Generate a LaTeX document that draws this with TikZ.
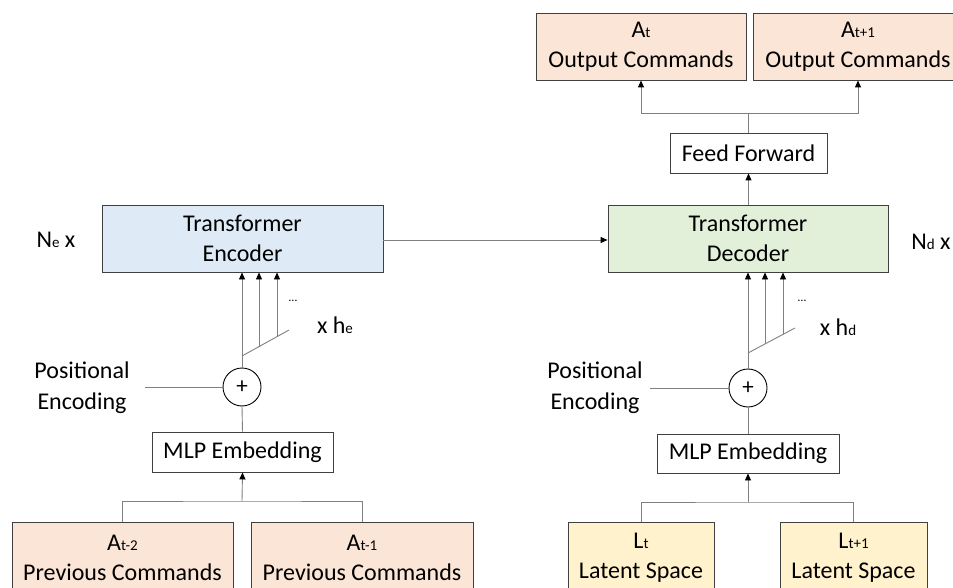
\documentclass[tikz,border=0pt]{standalone}
\usepackage{fontspec}
\setmainfont{Carlito}
\usetikzlibrary{arrows.meta}
\definecolor{peach}{HTML}{FBE5D6}
\definecolor{encblue}{HTML}{DEEBF7}
\definecolor{decgreen}{HTML}{E2F0D9}
\definecolor{latyellow}{HTML}{FFF2CC}
\definecolor{edgegray}{HTML}{404040}
\definecolor{wiregray}{HTML}{808080}
\newcommand{\smallidx}[1]{{\fontsize{15}{15}\selectfont #1}}
\tikzset{
  box/.style={draw=edgegray, line width=0.9pt, align=center, inner sep=0pt,
    font=\fontsize{24}{30}\selectfont},
  wire/.style={draw=wiregray, line width=0.9pt},
  arr/.style={wire, -{Triangle[length=7pt,width=6pt,fill=black,color=black]}},
  label/.style={align=center, inner sep=0pt, font=\fontsize{24}{31}\selectfont},
  plus/.style={circle, draw=black, line width=0.9pt, minimum size=38pt, inner sep=0pt,
    font=\fontsize{23}{23}\selectfont},
}
\begin{document}
\begin{tikzpicture}[x=1pt,y=-1pt]
\useasboundingbox (0,0) rectangle (953,588);
\begin{scope}
\clip (0,0) rectangle (953,588);

% main blocks
\node[box, fill=encblue, minimum width=281pt, minimum height=67pt] (enc) at (242.5,238.5) {Transformer\\Encoder};
\node[box, fill=decgreen, minimum width=280pt, minimum height=67pt] (dec) at (748,238.5) {Transformer\\Decoder};
\node[box, minimum width=157pt, minimum height=40pt] (ff) at (748.5,153) {Feed Forward};
\node[box, fill=peach, minimum width=210pt, minimum height=67pt] (out1) at (641,46.5) {A\smallidx{t}\\Output Commands};
\node[box, fill=peach, minimum width=210pt, minimum height=67pt] (out2) at (858,46.5) {A\smallidx{t+1}\\Output Commands};
\node[box, minimum width=181pt, minimum height=40pt] (mlpl) at (242.5,452) {MLP Embedding};
\node[box, minimum width=182pt, minimum height=39pt] (mlpr) at (748,453.5) {MLP Embedding};

% input blocks
\node[box, fill=peach, minimum width=221pt, minimum height=71pt] (prev1) at (122.5,557.5) {A\smallidx{t-2}\\Previous Commands};
\node[box, fill=peach, minimum width=222pt, minimum height=71pt] (prev2) at (362,557.5) {A\smallidx{t-1}\\Previous Commands};
\node[box, fill=latyellow, minimum width=146pt, minimum height=71pt] (lat1) at (641,557.5) {L\smallidx{t}\\Latent Space};
\node[box, fill=latyellow, minimum width=147pt, minimum height=71pt] (lat2) at (853.5,557.5) {L\smallidx{t+1}\\Latent Space};

% positional encoding sums
\node[plus] (suml) at (242,387) {+};
\node[plus] (sumr) at (748,388) {+};
\node[label] (pel) at (82,388) {Positional\\Encoding};
\node[label] (per) at (595,388) {Positional\\Encoding};
\coordinate (pelend) at (145,387);
\coordinate (perend) at (650,388);

% side labels
\node[label] (ne) at (56,240) {N\smallidx{e} x};
\node[label] (nd) at (931,242) {N\smallidx{d} x};
\node[label] (hel) at (335,325) {x h\smallidx{e}};
\node[label] (hdl) at (838,327) {x h\smallidx{d}};
\node[inner sep=0pt, font=\fontsize{12}{12}\selectfont] (dotsl) at (293,301) {\dots};
\node[inner sep=0pt, font=\fontsize{12}{12}\selectfont] (dotsr) at (802,301) {\dots};

% encoder side wiring
\coordinate (fl0) at (242,356);
\coordinate (fl1) at (259,346.6);
\coordinate (fl2) at (277,336.6);
\coordinate (fl3) at (289,330);
\draw[wire] (pelend) -- (suml.west);
\draw[wire] (suml.south) -- (mlpl.north);
\draw[arr] (suml.north) -- (enc.south -| suml);
\draw[wire] (fl0) -- (fl3);
\draw[arr] (fl1) -- (enc.south -| fl1);
\draw[arr] (fl2) -- (enc.south -| fl2);
\coordinate (jl) at (242,501);
\draw[arr] (jl) -- (mlpl.south);
\draw[wire] (prev1.north) |- (jl) -| (prev2.north);

% encoder to decoder
\draw[arr] (enc.east |- 0,240) -- (dec.west |- 0,240);

% decoder side wiring
\coordinate (fr0) at (748,353);
\coordinate (fr1) at (765,344);
\coordinate (fr2) at (783,334.4);
\coordinate (fr3) at (795,328);
\draw[wire] (perend) -- (sumr.west);
\draw[wire] (sumr.south) -- (mlpr.north);
\draw[arr] (sumr.north) -- (dec.south -| sumr);
\draw[wire] (fr0) -- (fr3);
\draw[arr] (fr1) -- (dec.south -| fr1);
\draw[arr] (fr2) -- (dec.south -| fr2);
\coordinate (jr) at (748,502);
\draw[arr] (jr) -- (mlpr.south);
\draw[wire] (lat1.north) |- (jr) -| (lat2.north);

% decoder to outputs
\draw[arr] (dec.north -| ff) -- (ff.south);
\coordinate (jt) at (748.5,113);
\draw[wire] (ff.north) -- (jt);
\draw[arr] (jt) -| (out1.south);
\draw[arr] (jt) -| (out2.south);
\end{scope}
\end{tikzpicture}
\end{document}
